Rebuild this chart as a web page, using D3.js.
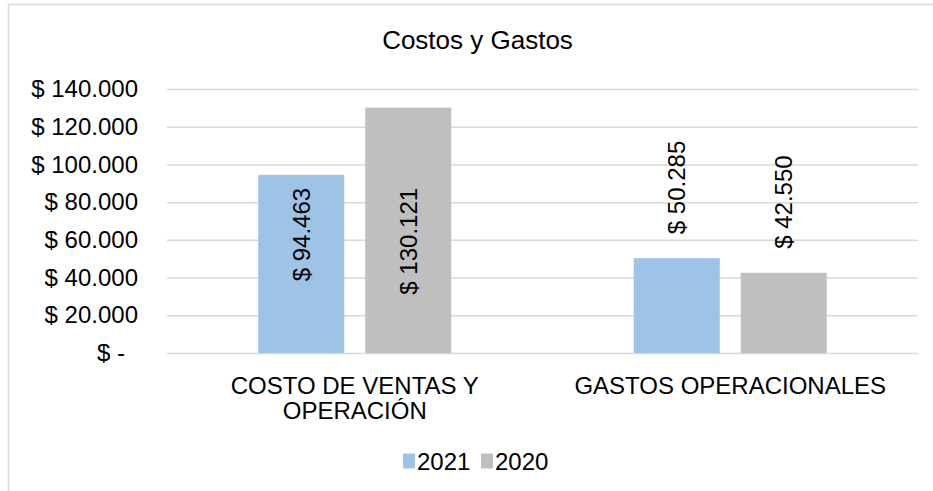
<!DOCTYPE html>
<html>
<head>
<meta charset="utf-8">
<script src="https://cdn.jsdelivr.net/npm/d3@7"></script>
<style>
  html, body { margin: 0; padding: 0; background: #fff; overflow: hidden; }
  text { font-family: "Liberation Sans", Arial, sans-serif; fill: #000; }
</style>
</head>
<body>
<div id="chart"></div>
<script>
const WIDTH = 933;
const HEIGHT = 491;

const categories = ['COSTO DE VENTAS Y OPERACIÓN', 'GASTOS OPERACIONALES'];
const categoryLines = [['COSTO DE VENTAS Y', 'OPERACIÓN'], ['GASTOS OPERACIONALES']];
const series = ['2021', '2020'];
const values2021 = [94463, 50285];
const values2020 = [130121, 42550];
const yTicks = [0, 20000, 40000, 60000, 80000, 100000, 120000, 140000];
const colors = ['#9dc3e6', '#bfbfbf'];

const rows = categories.map((c, i) => ({
  category: c,
  lines: categoryLines[i],
  values: [values2021[i], values2020[i]]
}));

const PLOT = { left: 167, right: 918, top: 89, bottom: 353 };

const svg = d3.select('#chart').append('svg')
  .attr('width', WIDTH)
  .attr('height', HEIGHT);

// chart frame, cut off on the right and bottom
svg.append('rect')
  .attr('x', 8.5)
  .attr('y', 4.5)
  .attr('width', 960)
  .attr('height', 520)
  .attr('fill', '#fff')
  .attr('stroke', '#d9d9d9')
  .attr('stroke-width', 1.5);

svg.append('text')
  .attr('x', 477.5)
  .attr('y', 49)
  .attr('text-anchor', 'middle')
  .style('font-size', '26px')
  .text('Costos y Gastos');

const yScale = d3.scaleLinear()
  .domain([0, 140000])
  .range([PLOT.bottom, PLOT.top]);

const x0 = d3.scaleBand()
  .domain(categories)
  .range([PLOT.left, PLOT.right]);

const x1 = d3.scaleBand()
  .domain(series)
  .range([0, x0.bandwidth()])
  .paddingInner(0.196)
  .paddingOuter(0.853);

const fmtNum = d3.formatLocale({ decimal: ',', thousands: '.', grouping: [3], currency: ['$', ''] }).format(',.0f');
const money = v => v === 0 ? '$ -' : '$ ' + fmtNum(v);

// gridlines + tick labels
const yAxis = d3.axisLeft(yScale)
  .tickValues(yTicks)
  .tickSize(-(PLOT.right - PLOT.left))
  .tickPadding(29)
  .tickFormat(money);

const gy = svg.append('g')
  .attr('transform', `translate(${PLOT.left},0)`)
  .call(yAxis);
gy.select('.domain').remove();
gy.selectAll('.tick line')
  .attr('stroke', '#d9d9d9')
  .attr('stroke-width', 1.5);
gy.selectAll('.tick text')
  .style('font-size', '24px')
  .attr('font-family', null)
  .attr('dx', d => d === 0 ? -13 : 0);

// bars
const groups = svg.append('g')
  .selectAll('g')
  .data(rows)
  .enter()
  .append('g')
  .attr('transform', d => `translate(${x0(d.category)},0)`);

groups.selectAll('rect')
  .data(d => d.values.map((v, i) => ({ key: series[i], value: v, i })))
  .enter()
  .append('rect')
  .attr('x', d => x1(d.key))
  .attr('y', d => yScale(d.value))
  .attr('width', x1.bandwidth())
  .attr('height', d => yScale(0) - yScale(d.value))
  .attr('fill', d => colors[d.i]);

// data labels, rotated; first group sits inside the bars, second above them
groups.each(function (row, ci) {
  const lowest = d3.min(row.values);
  d3.select(this).selectAll('text.lbl')
    .data(row.values.map((v, i) => ({ key: series[i], value: v })))
    .enter()
    .append('text')
    .attr('class', 'lbl')
    .style('font-size', '24px')
    .attr('dominant-baseline', 'central')
    .attr('text-anchor', ci === 0 ? 'end' : 'start')
    .attr('transform', d => {
      const cx = x1(d.key) + x1.bandwidth() / 2;
      const cy = ci === 0 ? yScale(lowest) + 13 : yScale(d.value) - 24;
      return `translate(${cx},${cy}) rotate(-90)`;
    })
    .text(d => money(d.value));
});

// category labels
const catText = svg.append('g')
  .selectAll('text')
  .data(rows)
  .enter()
  .append('text')
  .attr('x', d => x0(d.category) + x0.bandwidth() / 2)
  .attr('y', 394)
  .attr('text-anchor', 'middle')
  .style('font-size', '24px');

catText.selectAll('tspan')
  .data(d => d.lines)
  .enter()
  .append('tspan')
  .attr('x', function () { return this.parentNode.getAttribute('x'); })
  .attr('dy', (d, i) => i === 0 ? 0 : 25)
  .text(d => d);

// legend
const legend = svg.append('g')
  .attr('transform', 'translate(403,461)');

const legendX = d3.scaleOrdinal().domain(series).range([0, 78]);

const items = legend.selectAll('g')
  .data(series)
  .enter()
  .append('g')
  .attr('transform', d => `translate(${legendX(d)},0)`);

items.append('rect')
  .attr('x', 0)
  .attr('y', -7.5)
  .attr('width', 12)
  .attr('height', 15)
  .attr('fill', (d, i) => colors[i]);

items.append('text')
  .attr('x', 14)
  .attr('y', 0)
  .attr('dominant-baseline', 'central')
  .style('font-size', '24px')
  .text(d => d);
</script>
</body>
</html>
